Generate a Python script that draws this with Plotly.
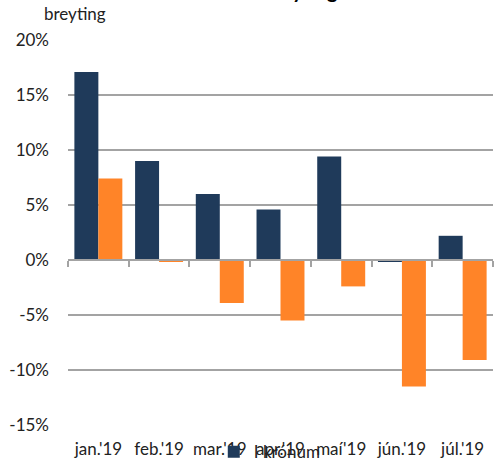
import plotly.graph_objects as go

categories = ["jan.'19", "feb.'19", "mar.'19", "apr.'19", "maí'19", "jún.'19", "júl.'19"]
kronur = [17.1, 9.0, 6.0, 4.6, 9.4, -0.1, 2.2]
other = [7.4, -0.1, -3.9, -5.5, -2.4, -11.5, -9.1]
series_names = ["I krónum", "Á föstu gengi"]
y_ticks = [-15, -10, -5, 0, 5, 10, 15, 20]
y_range = [-15, 20]

NAVY = "#1F3A5A"
ORANGE = "#FF8428"
GRID = "#A3A3A3"
FONT = "Lato"
TXT = "#222222"

fig = go.Figure()
fig.add_trace(go.Bar(x=categories, y=kronur, name=series_names[0],
                     marker=dict(color=NAVY, line=dict(width=0))))
fig.add_trace(go.Bar(x=categories, y=other, name=series_names[1],
                     marker=dict(color=ORANGE, line=dict(width=0))))
# helper (invisible) trace so the boundary-tick axis at zero is drawn
fig.add_trace(go.Scatter(x=[], y=[], xaxis="x2", showlegend=False, hoverinfo="skip"))

n = len(categories)
boundaries = [i - 0.5 for i in range(n + 1)]
zero_pos = (0 - y_range[0]) / (y_range[1] - y_range[0])

fig.update_layout(
    width=496, height=466,
    margin=dict(l=68, r=3, t=40, b=41, autoexpand=False),
    paper_bgcolor="white", plot_bgcolor="white",
    barmode="group", bargap=0.21, bargroupgap=0,
    font=dict(family=FONT, size=17, color=TXT),
    xaxis=dict(type="category", showgrid=False, showline=False, ticks="",
               ticklabelstandoff=12, tickfont=dict(size=17, color=TXT)),
    xaxis2=dict(overlaying="x", anchor="free", position=zero_pos,
                range=[-0.5, n - 0.5], tickvals=boundaries, ticks="outside",
                ticklen=6, tickwidth=2, tickcolor=GRID, showline=True,
                linecolor=GRID, linewidth=2, showticklabels=False, showgrid=False,
                zeroline=False),
    yaxis=dict(range=y_range, tickvals=y_ticks,
               ticktext=[f"{v}%" for v in y_ticks], showgrid=True,
               gridcolor=GRID, gridwidth=2, zeroline=False, showline=False,
               ticks="", ticklabelstandoff=18, tickfont=dict(size=17, color=TXT)),
    legend=dict(orientation="v", x=0.343, xanchor="left", y=-0.024, yanchor="top",
                font=dict(size=17, color=TXT), bgcolor="rgba(0,0,0,0)", itemwidth=30,
                tracegroupgap=0),
    showlegend=True,
    annotations=[
        dict(text="breyting", xref="paper", yref="paper", x=(42 - 68) / 425,
             xanchor="left", y=1 + (40 - 14) / 385, yanchor="middle",
             showarrow=False, font=dict(size=17, family=FONT, color=TXT)),
        dict(text="<b>Verðbreyting</b>", xref="paper", yref="paper",
             x=(340 - 68) / 425, xanchor="right", y=1 + (40 - 4) / 385,
             yanchor="bottom", showarrow=False,
             font=dict(size=20, family=FONT, color="#000000")),
    ],
)

fig.write_html("out.html", config={"displayModeBar": False},
               post_script="document.body.style.margin='0';document.body.style.padding='0';")
